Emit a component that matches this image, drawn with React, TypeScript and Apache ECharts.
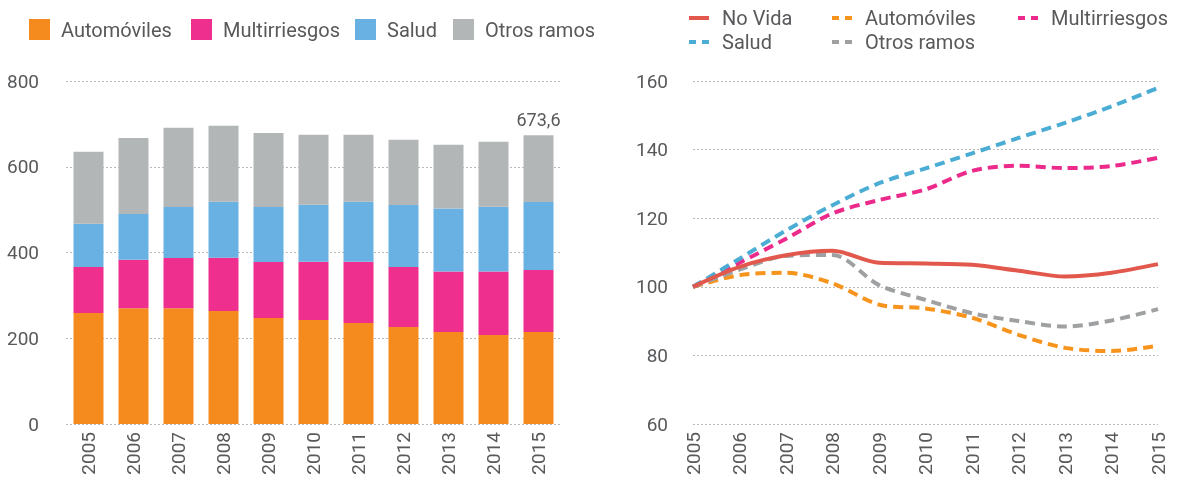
import React, { useEffect, useRef } from "react";
import * as echarts from "echarts";

// Primas No Vida por ramo (barras apiladas) e índices 2005 = 100 (líneas)
const years = ["2005", "2006", "2007", "2008", "2009", "2010", "2011", "2012", "2013", "2014", "2015"];

const automoviles = [259, 270, 270, 263.5, 247, 242.5, 235.5, 226, 214.5, 207.5, 214.5];
const multirriesgos = [107, 113, 117, 124, 131, 136, 143, 140, 141, 148, 144.5];
const salud = [101, 107, 119, 131, 128, 133, 140, 145, 147, 151, 158.9];
const otrosRamos = [168, 177, 185, 177, 173, 163, 156, 152, 149, 152, 155.7];

const idxNoVida = [100, 105.8, 109.2, 110.5, 107, 106.8, 106.4, 104.7, 103, 104.1, 106.6];
const idxAutomoviles = [100, 103.4, 104.1, 101, 94.8, 93.7, 91, 86, 82.2, 81.3, 82.8];
const idxMultirriesgos = [100, 107, 114, 121.4, 125.3, 128.4, 133.8, 135.3, 134.6, 135.2, 137.6];
const idxSalud = [100, 108.2, 116.4, 123.8, 130.2, 134.5, 138.9, 143.4, 147.8, 152.6, 158];
const idxOtros = [100, 105, 109, 109.3, 100.5, 96.2, 92.3, 90, 88.4, 90.2, 93.5];

const barTicks = { min: 0, max: 800, interval: 200 };
const lineTicks = { min: 60, max: 160, interval: 20 };

const FONT = "Roboto";
const TEXT = "#58595b";
const C_AUTO = "#f58b1f";
const C_MULTI = "#ee2f8e";
const C_SALUD = "#68b1e2";
const C_OTROS = "#b3b6b7";
const L_NOVIDA = "#e3584d";
const L_AUTO = "#f7941d";
const L_MULTI = "#ec2a8c";
const L_SALUD = "#4badd4";
const L_OTROS = "#9ea0a2";

const IDX = " (índice)";

// Legend keys for the index lines: a solid bar or two short dashes
const ICON_SOLID = "path://M0 0h20v4h-20z";
const ICON_DASHED = "path://M0 0h7v4h-7z M13 0h7v4h-7z";

export default function App() {
  const ref = useRef<HTMLDivElement>(null);

  useEffect(() => {
    if (!ref.current) return;
    const chart = echarts.init(ref.current, null, { renderer: "svg" });

    const last = years.length - 1;
    const total2015 =
      automoviles[last] + multirriesgos[last] + salud[last] + otrosRamos[last];

    const splitLine = {
      show: true,
      lineStyle: { type: [2, 2], color: "#b8b8b8", width: 1 },
    };
    const axisText = { color: TEXT, fontSize: 19, fontFamily: FONT };

    const barLegend = (name: string, left: number) => ({
      data: [name],
      left,
      top: 19,
      padding: 0,
      icon: "rect",
      itemWidth: 21,
      itemHeight: 21,
      selectedMode: false,
      textStyle: { color: TEXT, fontSize: 20, fontFamily: FONT, padding: [0, 0, 0, 6] },
    });

    const lineLegend = (name: string, left: number, top: number, dashed: boolean) => ({
      data: [name],
      left,
      top,
      padding: 0,
      icon: dashed ? ICON_DASHED : ICON_SOLID,
      itemWidth: 20,
      itemHeight: 4,
      selectedMode: false,
      formatter: (n: string) => n.replace(IDX, ""),
      textStyle: { color: TEXT, fontSize: 20, fontFamily: FONT, padding: [0, 0, 0, 8] },
    });

    const lineSeries = (name: string, data: number[], color: string, dashed: boolean) => ({
      name,
      type: "line",
      xAxisIndex: 1,
      yAxisIndex: 1,
      data,
      smooth: 0.3,
      symbol: "none",
      itemStyle: { color },
      lineStyle: { color, width: 4, type: dashed ? [10, 6] : "solid" },
    });

    chart.setOption({
      animation: false,
      textStyle: { fontFamily: FONT },
      legend: [
        barLegend("Automóviles", 29),
        barLegend("Multirriesgos", 191),
        barLegend("Salud", 355),
        barLegend("Otros ramos", 453),
        lineLegend("No Vida", 689, 8, false),
        lineLegend("Salud" + IDX, 689, 32, true),
        lineLegend("Automóviles" + IDX, 832, 8, true),
        lineLegend("Otros ramos" + IDX, 832, 32, true),
        lineLegend("Multirriesgos" + IDX, 1018, 8, true),
      ],
      grid: [
        { left: 66, top: 81, width: 495, height: 343 },
        { left: 693, top: 81, width: 465, height: 343 },
      ],
      xAxis: [
        {
          type: "category",
          gridIndex: 0,
          data: years,
          axisLine: { show: false },
          axisTick: { show: false },
          axisLabel: { ...axisText, rotate: 90, margin: 8 },
        },
        {
          type: "category",
          gridIndex: 1,
          data: years,
          boundaryGap: false,
          axisLine: { show: false },
          axisTick: { show: false },
          axisLabel: { ...axisText, rotate: 90, margin: 8 },
        },
      ],
      yAxis: [
        {
          type: "value",
          gridIndex: 0,
          ...barTicks,
          axisLine: { show: false },
          axisTick: { show: false },
          splitLine,
          axisLabel: { ...axisText, margin: 27 },
        },
        {
          type: "value",
          gridIndex: 1,
          ...lineTicks,
          axisLine: { show: false },
          axisTick: { show: false },
          splitLine,
          axisLabel: { ...axisText, margin: 25 },
        },
      ],
      series: [
        { name: "Automóviles", type: "bar", stack: "primas", data: automoviles, barWidth: 30, itemStyle: { color: C_AUTO } },
        { name: "Multirriesgos", type: "bar", stack: "primas", data: multirriesgos, barWidth: 30, itemStyle: { color: C_MULTI } },
        { name: "Salud", type: "bar", stack: "primas", data: salud, barWidth: 30, itemStyle: { color: C_SALUD } },
        {
          name: "Otros ramos",
          type: "bar",
          stack: "primas",
          data: otrosRamos,
          barWidth: 30,
          itemStyle: { color: C_OTROS },
          label: {
            show: true,
            position: "top",
            distance: 7,
            color: TEXT,
            fontSize: 18,
            fontFamily: FONT,
            formatter: (p: any) =>
              p.dataIndex === last ? total2015.toFixed(1).replace(".", ",") : "",
          },
        },
        lineSeries("Automóviles" + IDX, idxAutomoviles, L_AUTO, true),
        lineSeries("Otros ramos" + IDX, idxOtros, L_OTROS, true),
        lineSeries("Multirriesgos" + IDX, idxMultirriesgos, L_MULTI, true),
        lineSeries("Salud" + IDX, idxSalud, L_SALUD, true),
        lineSeries("No Vida", idxNoVida, L_NOVIDA, false),
      ],
    });

    return () => chart.dispose();
  }, []);

  return (
    <div
      ref={ref}
      style={{ position: "fixed", left: 0, top: 0, width: 1187, height: 478 }}
    />
  );
}
